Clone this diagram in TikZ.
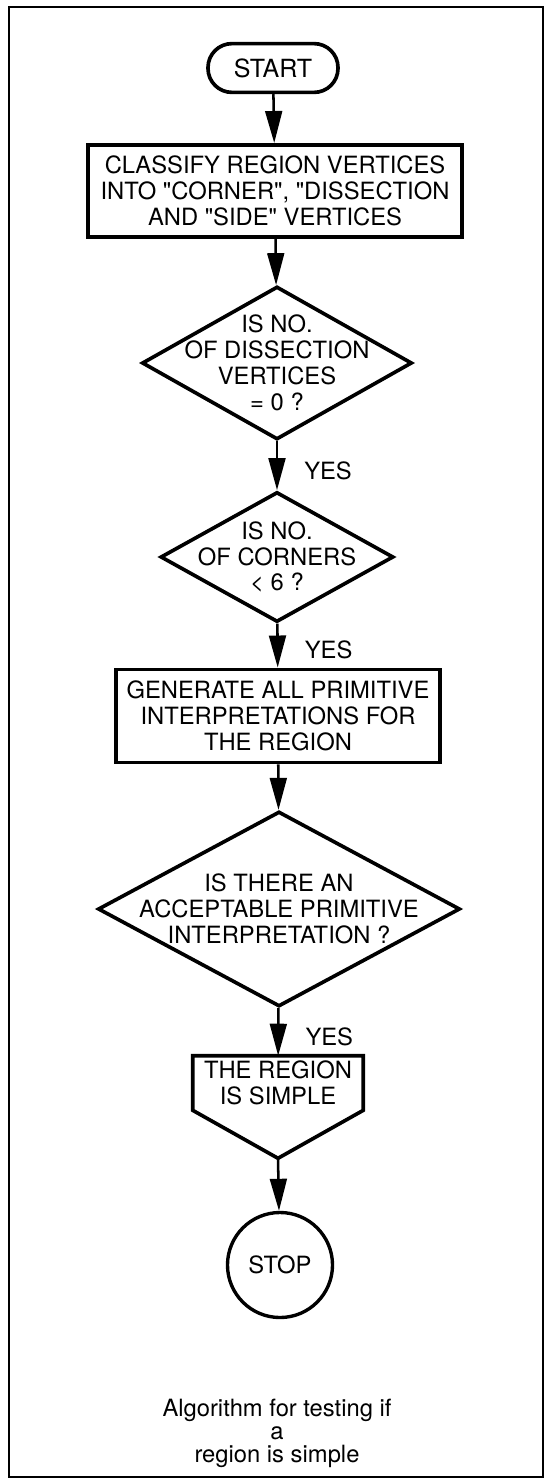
\documentclass[tikz,border=0pt]{standalone}
\usepackage{fontspec}
\setmainfont[Ligatures=TeXOff]{TeX Gyre Heros}
\usepackage{tikz}
\usetikzlibrary{shapes, arrows.meta, calc}

\begin{document}
\begin{tikzpicture}[
        x=0.025cm, y=-0.025cm,
        every node/.style={font=\fontsize{16.9}{18.4}\selectfont, align=center, inner sep=0pt},
        term/.style={draw, line width=2.6pt, rounded corners=0.6cm, minimum width=3.25cm, minimum height=1.22cm, font=\fontsize{17.8}{19}\selectfont},
        proc/.style={draw, line width=2.8pt, minimum height=2.3cm},
        decision/.style={draw, diamond, line width=2.6pt},
        yes/.style={anchor=west, pos=0.6, xshift=0.65cm},
        arrow/.style={-{Triangle[length=0.8cm, width=0.42cm]}, line width=1.8pt}
    ]

    \useasboundingbox (0,0) rectangle (547,1479);

    % Outer frame
    \draw[line width=1.2pt] (9,7) rectangle (543,1477);

    % Start and first step
    \node[term] (start) at (273,68) {START};
    \node[proc, minimum width=9.35cm] (classify) at (275,191) {CLASSIFY REGION VERTICES\\INTO "CORNER", "DISSECTION\\AND "SIDE" VERTICES};

    % Tests on the vertices
    \node[decision, minimum width=6.75cm, minimum height=3.825cm,
          label={center:{IS NO.\\OF DISSECTION\\VERTICES\\= 0 ?}}] (dissect) at (277,363) {};
    \node[decision, minimum width=5.825cm, minimum height=3.25cm,
          label={center:{IS NO.\\OF CORNERS\\< 6 ?}}] (corners) at (277,557) {};

    % Interpretations
    \node[proc, minimum width=8.075cm, minimum height=2.325cm] (generate) at (278,716) {GENERATE ALL PRIMITIVE\\INTERPRETATIONS FOR\\THE REGION};
    \node[decision, minimum width=9.05cm, minimum height=4.875cm,
          label={center:{IS THERE AN\\ACCEPTABLE PRIMITIVE\\INTERPRETATION ?}}] (accept) at (279,909) {};

    % Result (pointed box)
    \node[minimum width=4.25cm, minimum height=1.35cm] (simple) at (278,1083) {THE REGION\\IS SIMPLE};
    \coordinate (tip) at ($(simple.south)+(0,48)$);
    \draw[line width=2.6pt] (simple.south west) -- (simple.north west) -- (simple.north east)
        -- (simple.south east) -- (tip) -- cycle;

    \node[draw, circle, line width=2.4pt, minimum size=2.625cm] (stop) at (280,1265) {STOP};

    % Arrows
    \draw[arrow] (start) -- (classify);
    \draw[arrow] (classify) -- (dissect);
    \draw[arrow] (dissect) -- node[yes] {YES} (corners);
    \draw[arrow] (corners) -- node[yes] {YES} (generate);
    \draw[arrow] (generate) -- (accept);
    \draw[arrow] (accept) -- node[yes] {YES} (simple);
    \draw[arrow] (tip) -- (stop);

    % Caption
    \node[font=\fontsize{16.9}{16.3}\selectfont] (caption) at (277,1433) {Algorithm for testing if\\a\\region is simple};

\end{tikzpicture}
\end{document}
